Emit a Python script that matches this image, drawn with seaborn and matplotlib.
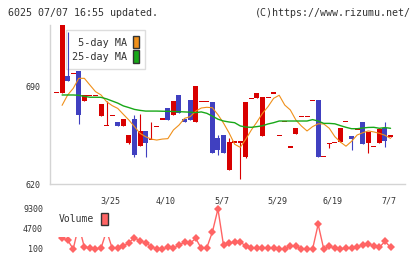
import numpy as np
import pandas as pd
import matplotlib
matplotlib.use('Agg')
import matplotlib.pyplot as plt
import matplotlib.transforms as mtransforms
from matplotlib.patches import Patch, Rectangle
import seaborn as sns

# --- candles (index 0..60) ---
opens = [685.2, 685.2, 697.1, 699.1, 700.7, 679.5, 683.4, 683.4, 668.8, 661.9,
         669.0, 664.3, 661.4, 649.5, 666.4, 647.4, 657.9, 652.1, 661.0, 666.4,
         674.3, 669.5, 683.6, 666.7, 680.0, 664.5, 678.8, 678.8, 678.6, 652.9,
         655.0, 630.0, 650.0, 650.0, 639.5, 681.2, 681.4, 654.3, 681.9, 685.0,
         654.8, 664.8, 646.4, 655.9, 668.3, 668.3, 679.8, 679.8, 639.8, 649.0,
         649.8, 649.8, 664.8, 654.3, 659.3, 664.3, 649.5, 646.9, 649.5, 660.0,
         653.6]
highs = [685.2, 733.6, 728.8, 699.1, 700.7, 683.4, 683.4, 683.4, 677.1, 679.3,
         669.0, 664.3, 666.4, 655.0, 669.3, 670.0, 657.9, 664.5, 661.0, 666.4,
         674.3, 679.3, 683.6, 666.7, 680.0, 690.0, 678.8, 678.8, 678.6, 655.0,
         655.0, 652.9, 650.0, 650.0, 678.6, 681.2, 685.0, 682.1, 681.9, 685.0,
         654.8, 664.8, 646.4, 660.0, 668.3, 668.3, 679.8, 679.8, 639.8, 649.0,
         649.8, 660.0, 664.8, 654.3, 659.3, 664.3, 657.1, 646.9, 659.3, 664.3,
         655.0]
lows = [685.2, 685.2, 693.6, 699.1, 662.9, 679.5, 683.4, 683.4, 668.8, 661.9,
        669.0, 661.4, 661.4, 648.8, 639.5, 647.4, 639.5, 652.1, 661.0, 666.4,
        666.0, 669.5, 670.9, 664.5, 666.0, 664.5, 678.8, 678.8, 642.4, 640.9,
        642.4, 630.0, 650.0, 623.8, 638.8, 681.2, 681.4, 654.3, 681.9, 685.0,
        654.8, 664.8, 646.4, 655.9, 668.3, 668.3, 679.8, 639.5, 639.8, 645.9,
        649.8, 649.8, 664.8, 644.5, 659.3, 648.8, 642.4, 646.9, 649.5, 646.6,
        653.6]
closes = [685.2, 733.6, 693.6, 699.1, 669.3, 683.4, 683.4, 683.4, 677.1, 661.9,
          669.0, 661.4, 666.4, 655.0, 640.7, 657.9, 649.5, 652.1, 661.0, 666.4,
          666.0, 679.3, 670.9, 664.5, 666.0, 690.0, 678.8, 678.8, 642.4, 644.3,
          642.4, 650.0, 650.0, 650.0, 678.6, 681.2, 685.0, 682.1, 681.9, 685.0,
          654.8, 664.8, 646.4, 660.0, 668.3, 668.3, 679.8, 639.5, 639.8, 649.0,
          649.8, 660.0, 664.8, 652.1, 659.3, 648.8, 657.1, 646.9, 659.3, 651.0,
          655.0]

# --- moving averages ---
ma5 = [np.nan, 676.2, 683.6, 688.3, 695.5, 695.5, 690.7, 686.0, 683.6, 678.8,
       676.0, 674.0, 669.8, 665.7, 661.0, 656.2, 653.8, 652.1, 651.4, 652.1,
       652.4, 658.6, 662.1, 666.9, 668.1, 672.0, 674.3, 674.8, 674.5, 669.5,
       663.5, 656.5, 648.4, 646.2, 652.0, 658.6, 664.3, 670.5, 675.3, 681.2,
       683.4, 676.4, 672.9, 665.7, 661.4, 657.9, 661.0, 663.0, 662.9, 659.8,
       653.8, 650.0, 647.0, 650.5, 655.0, 656.6, 657.9, 657.2, 656.2, 654.8,
       652.6]
ma25 = [np.nan, 683.6, 683.6, 683.6, 683.4, 682.6, 682.0, 682.0, 681.9, 680.8,
        679.3, 677.8, 675.8, 674.6, 673.3, 672.6, 672.1, 672.1, 672.1, 672.0,
        671.9, 671.8, 671.7, 671.5, 671.3, 671.0, 671.5, 670.5, 668.5, 666.3,
        665.0, 664.3, 663.8, 661.5, 660.7, 660.5, 661.0, 661.6, 662.9, 663.8,
        665.0, 665.0, 665.0, 665.0, 665.0, 665.0, 666.0, 665.0, 663.3, 663.3,
        663.0, 661.7, 660.5, 659.5, 659.5, 660.0, 660.4, 660.5, 659.8, 660.3,
        659.8]

volume = [np.nan, 2560, 2170, 100, 5550, 490, 400, 100, 330, 4300,
          260, 400, 790, 1550, 2700, 1940, 1550, 640, 100, 100,
          490, 260, 1020, 1630, 1400, 2560, 260, 400, 4010, 9300,
          950, 1400, 1710, 1710, 790, 260, 260, 260, 260, 260,
          100, 100, 790, 790, 100, 100, 100, 5780, 100, 790,
          260, 100, 260, 400, 640, 950, 1250, 790, 490, 1860,
          490]

date_labels = ['3/25', '4/10', '5/7', '5/29', '6/19', '7/7']
date_pos = [10, 20, 30, 40, 50, 60]

RED = '#d80000'
BLUE = '#4040c0'
ORANGE = '#f0901a'
GREEN = '#18a818'
VOLC = '#ff6464'
TXT = '#333333'
AXC = '#d4d4d4'

df = pd.DataFrame({'idx': np.arange(len(opens)), 'open': opens, 'high': highs,
                   'low': lows, 'close': closes, 'ma5': ma5, 'ma25': ma25,
                   'volume': volume})

sns.set_style('white')
plt.rcParams['font.family'] = ['DejaVu Sans Mono']

W, H = 420, 259
fig = plt.figure(figsize=(W / 100, H / 100), dpi=100)


def px_axes(x0, y0, x1, y1):
    return fig.add_axes([x0 / W, 1 - y1 / H, (x1 - x0) / W, (y1 - y0) / H])


ax = px_axes(50, 25, 405, 184)
axv = px_axes(50, 205, 405, 252)
xlim = (-1.17, 62.6)

# candles: red = up, blue = down
up = df['close'] >= df['open']
cols = np.where(up, RED, BLUE)
body = (df['close'] - df['open']).abs()
body_h = np.maximum(body, 0.8)
body_lo = np.minimum(df['open'], df['close']) - (body_h - body) / 2
ax.vlines(df['idx'], df['low'], df['high'], colors=cols, lw=0.8, zorder=3)
ax.bar(df['idx'], body_h, bottom=body_lo, width=0.9, color=cols, lw=0, zorder=4)

sns.lineplot(data=df, x='idx', y='ma5', color=ORANGE, lw=0.8, ax=ax, zorder=5)
sns.lineplot(data=df, x='idx', y='ma25', color=GREEN, lw=1.0, ax=ax, zorder=5)

ax.set_xlim(xlim)
ax.set_ylim(620, 733.6)
ax.set_xlabel('')
ax.set_ylabel('')
for s in ['top', 'right']:
    ax.spines[s].set_visible(False)
for s in ['left', 'bottom']:
    ax.spines[s].set_color(AXC)
    ax.spines[s].set_linewidth(1)
ax.set_yticks([620, 690])
ax.set_yticklabels(['620', '690'])
ax.set_xticks(date_pos)
ax.set_xticklabels(date_labels)
ax.set_xticks(np.linspace(xlim[0], xlim[1], 12), minor=True)
ax.tick_params(axis='x', which='major', length=0, pad=9, labelsize=6, labelcolor=TXT)
ax.tick_params(axis='x', which='minor', direction='inout', length=6, width=1, color=AXC)
ax.tick_params(axis='y', direction='inout', length=6, width=1, color=AXC,
               labelsize=6, labelcolor=TXT, pad=4)
shift = mtransforms.ScaledTranslation(-2 / 100, 0, fig.dpi_scale_trans)
for lab in ax.get_xticklabels():
    lab.set_transform(lab.get_transform() + shift)

handles = [Patch(facecolor=ORANGE, edgecolor='#333333', lw=1, label=' 5-day MA'),
           Patch(facecolor=GREEN, edgecolor='#333333', lw=1, label='25-day MA')]
leg = ax.legend(handles=handles, loc='upper left', bbox_to_anchor=(66 / W, 1 - 30 / H),
                bbox_transform=fig.transFigure, markerfirst=False, handlelength=0.6,
                handleheight=1.5, handletextpad=0.6, labelspacing=0.2, borderpad=0.6,
                borderaxespad=0, fontsize=7.3, frameon=True, fancybox=False,
                edgecolor='#dddddd', framealpha=1, labelcolor=TXT)
leg.get_frame().set_linewidth(1)
leg.set_zorder(2)

# volume
sns.lineplot(data=df, x='idx', y='volume', color=VOLC, lw=1, marker='D',
             markersize=4, markeredgewidth=0, ax=axv)
axv.set_xlim(xlim)
axv.set_ylim(100 - 3 * 230, 100 + 44 * 230)
axv.set_xlabel('')
axv.set_ylabel('')
for s in axv.spines.values():
    s.set_visible(False)
axv.set_xticks([])
axv.set_yticks([100, 4700, 9300])
axv.set_yticklabels(['100', '4700', '9300'])
axv.tick_params(axis='y', length=0, labelsize=6, labelcolor=TXT, pad=5)

# white backdrop of the volume legend (hides part of the line, as in the source)
axv.add_patch(Rectangle((56 / W, 1 - 236.5 / H), 56 / W, 27 / H, transform=fig.transFigure,
                        facecolor='white', edgecolor='none', zorder=8, clip_on=False))
vleg = axv.legend(handles=[Patch(facecolor=VOLC, edgecolor='#333333', lw=1, label='Volume')],
                  loc='upper left', bbox_to_anchor=(57 / W, 1 - 211 / H),
                  bbox_transform=fig.transFigure, markerfirst=False, handlelength=0.7,
                  handleheight=1.5, handletextpad=0.7, borderpad=0.2, borderaxespad=0,
                  fontsize=7, frameon=False, labelcolor=TXT)
vleg.set_zorder(9)

fig.text(8 / W, 1 - 12.5 / H, '6025 07/07 16:55 updated.', fontsize=7.2, color=TXT,
         ha='left', va='center')
fig.text(411 / W, 1 - 12.5 / H, '(C)https://www.rizumu.net/', fontsize=7.2, color=TXT,
         ha='right', va='center')

fig.savefig('out.png', dpi=100)
